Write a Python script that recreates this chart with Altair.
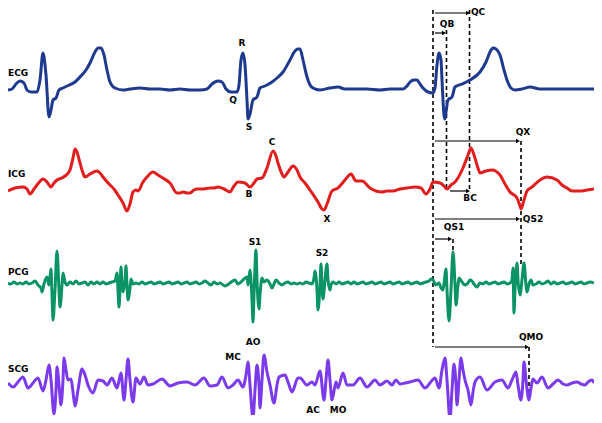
import altair as alt
import pandas as pd

# ---- signal traces (x, y in reference pixel units; y grows downward) ----
ecg_x = [8,12,16,20,24,27,31,37,40,43,46,49,51,53,56,59,63,67,75,80,86,90,95,98,101,104,107,110,115,123,130,140,150,160,170,180,190,200,207,212,218,222,226,231,237,239,241,243,245,247,248,250,253,257,260,265,272,277,283,290,295,298,300,303,307,310,313,320,330,338,345,355,367,380,390,403,407,410,414,417,420,423,428,433,435,437,439,441,442,444,445,446,448,452,455,462,470,480,486,490,493,496,500,504,507,511,515,522,530,540,550,560,570,580,594]
ecg_y = [90,89,84,81,83,90,92,92,80,53,75,117,110,100,98,90,88,86,82,77,70,63,52,48,48,55,70,82,88,90,89,88,89,89,90,89,90,90,89,84,81,82,89,92,92,85,60,53,65,100,119,114,100,97,88,86,82,78,72,60,51,49,49,60,77,85,88,90,88,87,89,89,89,90,89,89,86,82,80,80,84,88,92,93,88,65,53,60,80,115,119,112,100,97,87,84,80,72,62,52,48,49,55,70,80,88,90,89,87,89,89,89,89,89,89]

icg_x = [8,15,23,27,30,34,37,43,47,51,54,57,62,65,70,73,75,77,80,83,85,90,97,100,103,110,114,118,123,127,130,133,136,138,143,147,153,158,163,170,177,180,183,187,190,194,197,203,210,214,218,224,230,234,238,245,250,254,257,262,267,273,276,278,282,284,288,293,297,300,305,310,318,322,324,327,332,338,345,351,356,362,370,376,382,387,393,400,407,415,421,426,430,433,440,444,447,451,455,463,468,471,474,478,480,486,492,500,505,510,517,520,521,524,527,532,540,547,557,562,567,572,575,580,587,594]
icg_y = [191,188,187,189,194,189,185,179,182,187,183,180,178,176,170,158,149,152,163,173,177,174,171,173,177,185,189,195,203,211,204,192,190,191,182,177,172,175,178,183,193,193,192,193,193,190,189,189,188,188,187,189,192,186,182,183,187,183,179,178,168,151,156,163,174,177,172,166,170,177,183,190,202,209,210,204,191,188,180,174,181,181,188,191,192,191,191,189,188,187,188,194,189,182,183,186,189,185,182,168,155,148,155,168,173,171,170,175,184,192,198,206,209,200,191,187,180,177,180,185,188,191,191,191,190,189]

pcg_x = [8,11,14,17,20,23,26,29,32,35,38,41,42,44,47,49,51,52,53,55,57,59,60,62,63,65,67,70,73,76,79,82,85,88,91,94,97,100,103,106,109,112,115,117,118,119,120,121,122,123,125,126,127,128,130,131,133,136,139,142,145,148,151,154,157,160,163,166,169,172,175,178,181,184,187,190,193,196,199,202,205,208,211,214,217,220,225,230,235,238,241,244,247,248,250,252,253,254,256,257,259,260,262,264,267,270,272,274,276,279,282,285,288,291,294,297,300,303,306,309,312,314,315,317,318,320,321,322,323,325,327,328,330,331,333,336,339,342,345,348,351,354,357,360,363,366,369,372,375,378,381,384,387,390,393,396,399,402,405,408,411,414,417,420,423,426,429,431,433,436,439,441,443,445,446,447,449,451,453,455,456,458,459,462,465,468,470,472,474,477,480,483,486,489,492,495,498,501,504,507,510,512,513,514,515,517,518,520,522,524,526,527,529,531,533,536,539,542,545,548,551,554,557,560,563,566,569,572,575,578,581,584,587,590,594]
pcg_y = [283,284,282,284,283,284,282,284,283,281,285,288,292,284,277,285,269,295,320,290,251,290,307,285,273,282,285,282,284,281,284,283,282,285,282,284,282,284,282,284,283,282,281,273,290,307,290,267,285,292,280,266,285,300,288,279,284,283,284,282,284,283,282,284,283,282,284,283,282,284,283,282,284,283,282,284,283,282,284,283,281,283,285,282,284,283,286,283,280,284,282,279,277,285,270,300,322,295,250,280,309,295,278,282,280,284,288,284,280,283,285,283,282,284,283,284,283,284,282,283,284,278,271,290,310,285,264,285,299,280,264,280,290,285,282,284,282,284,283,282,284,282,284,283,282,284,283,282,284,283,282,284,283,282,284,283,282,284,283,282,284,283,282,284,283,282,281,279,280,285,283,288,290,275,269,290,321,290,252,285,305,285,278,282,285,283,280,281,284,287,283,284,282,284,283,282,284,283,282,284,283,280,268,313,290,263,280,295,280,263,285,292,284,280,285,284,282,284,283,281,284,282,284,283,282,284,283,282,284,283,282,284,283,282,283]

scg_x = [8,13,18,23,28,33,38,43,46,49,51,54,56,57,59,61,63,64,66,68,71,73,75,78,82,85,88,93,98,103,107,112,117,121,124,126,128,130,133,136,140,144,148,153,162,170,178,187,195,204,210,217,222,228,233,238,243,246,248,250,253,255,257,259,260,262,264,267,270,274,277,279,285,288,292,298,300,307,312,315,320,324,326,328,330,332,336,338,343,347,353,360,367,375,380,387,392,396,400,405,410,418,425,430,435,439,442,445,447,450,452,454,456,457,459,461,463,465,468,471,473,475,480,487,495,502,508,512,516,518,521,523,524,526,529,531,533,537,542,548,553,558,563,567,572,577,581,585,588,592,594]
scg_y = [383,387,382,377,388,383,378,391,380,365,380,414,390,367,385,405,380,358,370,380,379,392,406,390,369,375,385,393,380,381,385,378,388,373,400,380,359,380,402,378,384,377,385,384,379,386,383,382,385,378,386,385,377,388,385,380,387,375,362,385,418,390,365,385,408,380,355,372,385,403,385,377,375,382,392,378,378,385,382,385,371,400,380,360,380,400,382,388,373,385,385,378,387,380,385,381,385,380,384,383,382,380,388,383,378,388,370,358,380,419,390,364,385,405,380,358,370,380,390,405,392,382,377,390,382,380,388,380,372,385,400,380,362,380,400,388,379,383,377,388,384,380,384,385,383,382,384,385,382,380,383]

signals = ["ECG", "ICG", "PCG", "SCG"]
colors = ["#1d3a8f", "#e11d1d", "#0a9465", "#7c3aed"]

# ---- annotations ----
lab_text = ["R", "Q", "S", "C", "B", "X", "S1", "S2", "MC", "AO", "AC", "MO",
            "QC", "QB", "QX", "BC", "QS2", "QS1", "QMO"]
lab_x = [242, 233, 249, 272, 249, 327, 255, 322, 233, 253, 313, 338,
         478, 447, 523, 470, 533, 454, 531]
lab_y = [43, 100, 127, 142, 194, 219, 242, 253, 357, 342, 410, 410,
         12, 24, 132, 198, 219, 227, 337]

name_y = [73, 174, 272, 369]

arr_x1 = [435, 435, 435, 450, 435, 435, 435]
arr_x2 = [468, 444, 518, 468, 518, 450, 527]
arr_y = [13, 33, 141, 191, 219, 239, 347]

dash_x = [433, 446.5, 469.5, 521, 453, 529]
dash_y1 = [10, 30, 10, 141, 239, 347]
dash_y2 = [347, 189, 191, 267, 251, 393]

rows = []
for name, xs, ys in zip(signals, [ecg_x, icg_x, pcg_x, scg_x], [ecg_y, icg_y, pcg_y, scg_y]):
    for i, (a, b) in enumerate(zip(xs, ys)):
        rows.append({"signal": name, "i": i, "x": a, "y": b})
sig_df = pd.DataFrame(rows)

xs = alt.Scale(domain=[8, 594], nice=False, zero=False)
ys = alt.Scale(domain=[8, 415], nice=False, zero=False, reverse=True)

lines = alt.Chart(sig_df).mark_line(strokeWidth=3, interpolate="monotone").encode(
    x=alt.X("x:Q", scale=xs, axis=None),
    y=alt.Y("y:Q", scale=ys, axis=None),
    color=alt.Color("signal:N", scale=alt.Scale(domain=signals, range=colors), legend=None),
    order=alt.Order("i:Q"),
)

dash_df = pd.DataFrame({"x": dash_x, "y1": dash_y1, "y2": dash_y2})
dashes = alt.Chart(dash_df).mark_rule(color="black", strokeWidth=1.6, strokeDash=[4, 3]).encode(
    x=alt.X("x:Q", scale=xs, axis=None),
    y=alt.Y("y1:Q", scale=ys, axis=None),
    y2="y2:Q",
)

arr_df = pd.DataFrame({"x1": arr_x1, "x2": arr_x2, "y": arr_y})
arrows = alt.Chart(arr_df).mark_rule(color="black", strokeWidth=1.2).encode(
    x=alt.X("x1:Q", scale=xs, axis=None),
    x2="x2:Q",
    y=alt.Y("y:Q", scale=ys, axis=None),
)
heads = alt.Chart(arr_df).mark_point(shape="triangle-right", filled=True, color="black", size=22, opacity=1).encode(
    x=alt.X("x2:Q", scale=xs, axis=None),
    y=alt.Y("y:Q", scale=ys, axis=None),
)

lab_df = pd.DataFrame({"t": lab_text, "x": lab_x, "y": lab_y})
labels = alt.Chart(lab_df).mark_text(font="DejaVu Sans", fontWeight="bold", fontSize=9,
                                     align="center", baseline="middle", color="black").encode(
    x=alt.X("x:Q", scale=xs, axis=None),
    y=alt.Y("y:Q", scale=ys, axis=None),
    text="t:N",
)

name_df = pd.DataFrame({"t": signals, "x": [8] * 4, "y": name_y})
names = alt.Chart(name_df).mark_text(font="DejaVu Sans", fontWeight="bold", fontSize=9,
                                     align="left", baseline="middle", color="black").encode(
    x=alt.X("x:Q", scale=xs, axis=None),
    y=alt.Y("y:Q", scale=ys, axis=None),
    text="t:N",
)

chart = alt.layer(dashes, lines, arrows, heads, labels, names).properties(
    width=586, height=407, padding=0, autosize="none", background="white"
).configure_view(stroke=None)

chart.save("out.html", embed_options={"renderer": "svg", "actions": False})
